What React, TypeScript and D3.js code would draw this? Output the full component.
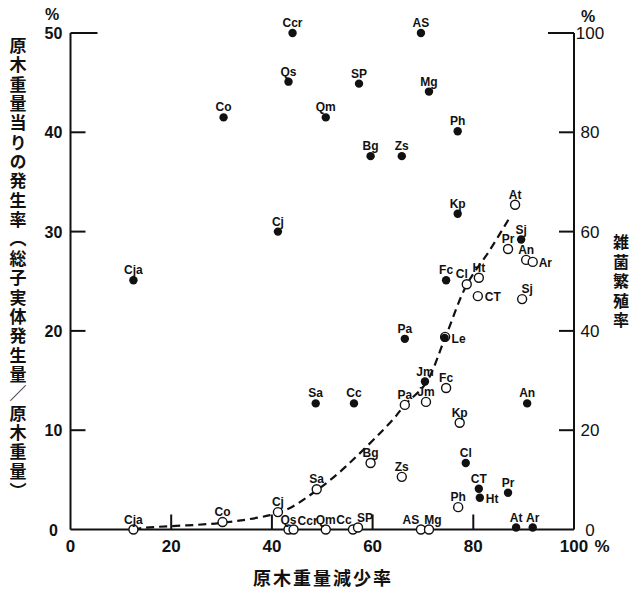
import React from "react";
import * as d3 from "d3";

// ---- data ----
const filledNames = ["Ccr","AS","Qs","SP","Mg","Co","Qm","Ph","Bg","Zs","Kp","Cj","Sj","Cja","Fc","Pa","Le","Jm","Sa","Cc","An","Cl","CT","Ht","Pr","At","Ar"];
const filledLoss = [44.1,69.6,43.3,57.3,71.2,30.4,50.7,76.9,59.6,65.8,76.9,41.2,89.5,12.5,74.6,66.4,74.3,70.4,48.7,56.3,90.7,78.5,81.1,81.3,86.9,88.5,91.8];
const filledYield = [50.0,50.0,45.1,44.9,44.1,41.5,41.5,40.1,37.6,37.6,31.8,30.0,29.2,25.1,25.1,19.2,19.3,14.9,12.7,12.7,12.7,6.7,4.1,3.2,3.7,0.2,0.2];

const openNames = ["At","Pr","An","Ar","Ht","Cl","CT","Sj","Le","Fc","Jm","Pa","Kp","Bg","Zs","Sa","Ph","Cj","Co","Cja","Qs","Ccr","Qm","Cc","SP","AS","Mg"];
const openLoss = [88.3,86.9,90.5,91.8,81.1,78.7,80.9,89.7,74.4,74.6,70.6,66.4,77.3,59.6,65.8,48.9,77.0,41.2,30.2,12.5,43.3,44.3,50.7,56.1,57.1,69.6,71.2];
const openContam = [65.4,56.5,54.3,53.9,50.7,49.4,47.0,46.4,38.8,28.5,25.7,25.1,21.5,13.4,10.6,8.1,4.5,3.5,1.5,0.0,0.0,0.0,0.0,0.0,0.4,0.0,0.0];

const curveLoss = [12.5,14.1,29.6,39.6,43.5,48.1,53.5,64.0,66.4,70.6,74.4,78.7,83.3,87.5];
const curveContam = [0.0,0.3,1.3,2.9,4.3,7.3,11.6,22.1,25.1,29.5,38.6,49.3,56.3,63.3];

const xTicks = [0,20,40,60,80,100];
const leftTicks = [0,10,20,30,40,50];
const rightTicks = [0,20,40,60,80,100];

const leftTitle = "原木重量当りの発生率（総子実体発生量／原木重量）";
const rightTitle = "雑菌繁殖率";
const xTitle = "原木重量減少率";

// label layout exceptions: [dx, dy, anchor]
const filledLabelLayout: Record<string, [number, number, string]> = {
  Le: [7, 5, "start"],
  Ht: [6, 5, "start"],
};
const openLabelLayout: Record<string, [number, number, string]> = {
  Ar: [6, 5, "start"],
  CT: [7, 5, "start"],
  Le: [0, 0, "none"],
  Ccr: [4, -5, "start"],
  Cc: [-9, -6, "middle"],
  SP: [7, -6, "middle"],
  AS: [-10, -6, "middle"],
  Mg: [4, -6, "middle"],
  Cl: [-5, -6, "middle"],
  Sj: [5, -6, "middle"],
};

export default function App() {
  const W = 635, H = 593;
  const x = d3.scaleLinear().domain([0, 100]).range([70.5, 574]);
  const yL = d3.scaleLinear().domain([0, 50]).range([529.5, 33]);
  const yR = d3.scaleLinear().domain([0, 100]).range([529.5, 33]);

  const curvePts: [number, number][] = curveLoss.map((v, i) => [v, curveContam[i]]);
  const line = d3.line<[number, number]>()
    .x(d => x(d[0]))
    .y(d => yR(d[1]))
    .curve(d3.curveCatmullRom.alpha(0.5));

  const font = "'Liberation Sans', Arial, Helvetica, sans-serif";
  const cjk = "'Noto Sans CJK JP', 'Noto Sans CJK SC', sans-serif";
  const x0 = x(0), x100 = x(100), yb = yL(0), yt = yL(50);

  const label = (name: string, px: number, py: number, layout?: [number, number, string]) => {
    const [dx, dy, anchor] = layout || [0, -6, "middle"];
    if (anchor === "none") return null;
    return (
      <text key={"l" + name + px + py} x={px + dx} y={py + dy} textAnchor={anchor as any}
        fontFamily={font} fontSize={12} fontWeight="bold" fill="#111">{name}</text>
    );
  };

  return (
    <svg width={W} height={H} style={{ position: "absolute", left: 0, top: 0, background: "#fff" }}>
      <rect width={W} height={H} fill="#fff" />
      {/* axes */}
      <g stroke="#111" strokeWidth={2} fill="none">
        <line x1={x0} y1={yt} x2={x0} y2={yb} />
        <line x1={x100} y1={yt} x2={x100} y2={yb} />
        <line x1={x0} y1={yb} x2={x100} y2={yb} />
        {leftTicks.filter(t => t > 0).map(t => (
          <line key={"lt" + t} x1={x0} x2={x0 + (t === 50 ? 27 : 15)} y1={yL(t)} y2={yL(t)} />
        ))}
        {rightTicks.filter(t => t > 0).map(t => (
          <line key={"rt" + t} x1={x100} x2={x100 - (t === 100 ? 26 : 15)} y1={yR(t)} y2={yR(t)} />
        ))}
        {xTicks.filter(t => t > 0 && t < 100).map(t => (
          <line key={"xt" + t} x1={x(t)} x2={x(t)} y1={yb} y2={yb - 15} />
        ))}
      </g>
      {/* tick labels */}
      <g fontFamily={font} fontSize={16} fontWeight="bold" fill="#111">
        {leftTicks.map(t => (
          <text key={"ll" + t} x={53.5} y={yL(t) + 6} textAnchor="middle">{t}</text>
        ))}
        <text x={52} y={20} textAnchor="middle">%</text>
        {xTicks.map(t => (
          <text key={"xl" + t} x={x(t)} y={552} textAnchor="middle" fontSize={17}>{t}</text>
        ))}
        <text x={x(100) + 28} y={552} textAnchor="middle" fontSize={17}>%</text>
      </g>
      <g fontFamily={font} fontSize={17} fill="#111">
        {rightTicks.map(t => (
          <text key={"rl" + t} x={590} y={yR(t) + 6} textAnchor="middle">{t}</text>
        ))}
        <text x={588} y={22} textAnchor="middle" fontWeight="bold" fontSize={16}>%</text>
      </g>
      {/* titles */}
      <g fontFamily={cjk} fontSize={17} fontWeight="bold" fill="#111">
        <text x={18} y={37} style={{ writingMode: "vertical-rl" } as any} letterSpacing={2.35}>{leftTitle}</text>
        <text x={621} y={234} fontSize={16} style={{ writingMode: "vertical-rl" } as any} letterSpacing={3.5}>{rightTitle}</text>
        <text x={323} y={585} fontSize={18} letterSpacing={2} textAnchor="middle">{xTitle}</text>
      </g>
      {/* fitted curve */}
      <path d={line(curvePts) || ""} fill="none" stroke="#111" strokeWidth={2.2} strokeDasharray="8 5" />
      {/* open circles */}
      {openNames.map((n, i) => (
        <circle key={"o" + n} cx={x(openLoss[i])} cy={yR(openContam[i])} r={4.5}
          fill="#fff" stroke="#111" strokeWidth={1.4} />
      ))}
      {/* filled dots */}
      {filledNames.map((n, i) => (
        <circle key={"f" + n} cx={x(filledLoss[i])} cy={yL(filledYield[i])} r={4.2} fill="#111" />
      ))}
      {/* labels */}
      {openNames.map((n, i) => label(n, x(openLoss[i]), yR(openContam[i]), openLabelLayout[n]))}
      {filledNames.map((n, i) => label(n, x(filledLoss[i]), yL(filledYield[i]), filledLabelLayout[n]))}
    </svg>
  );
}
